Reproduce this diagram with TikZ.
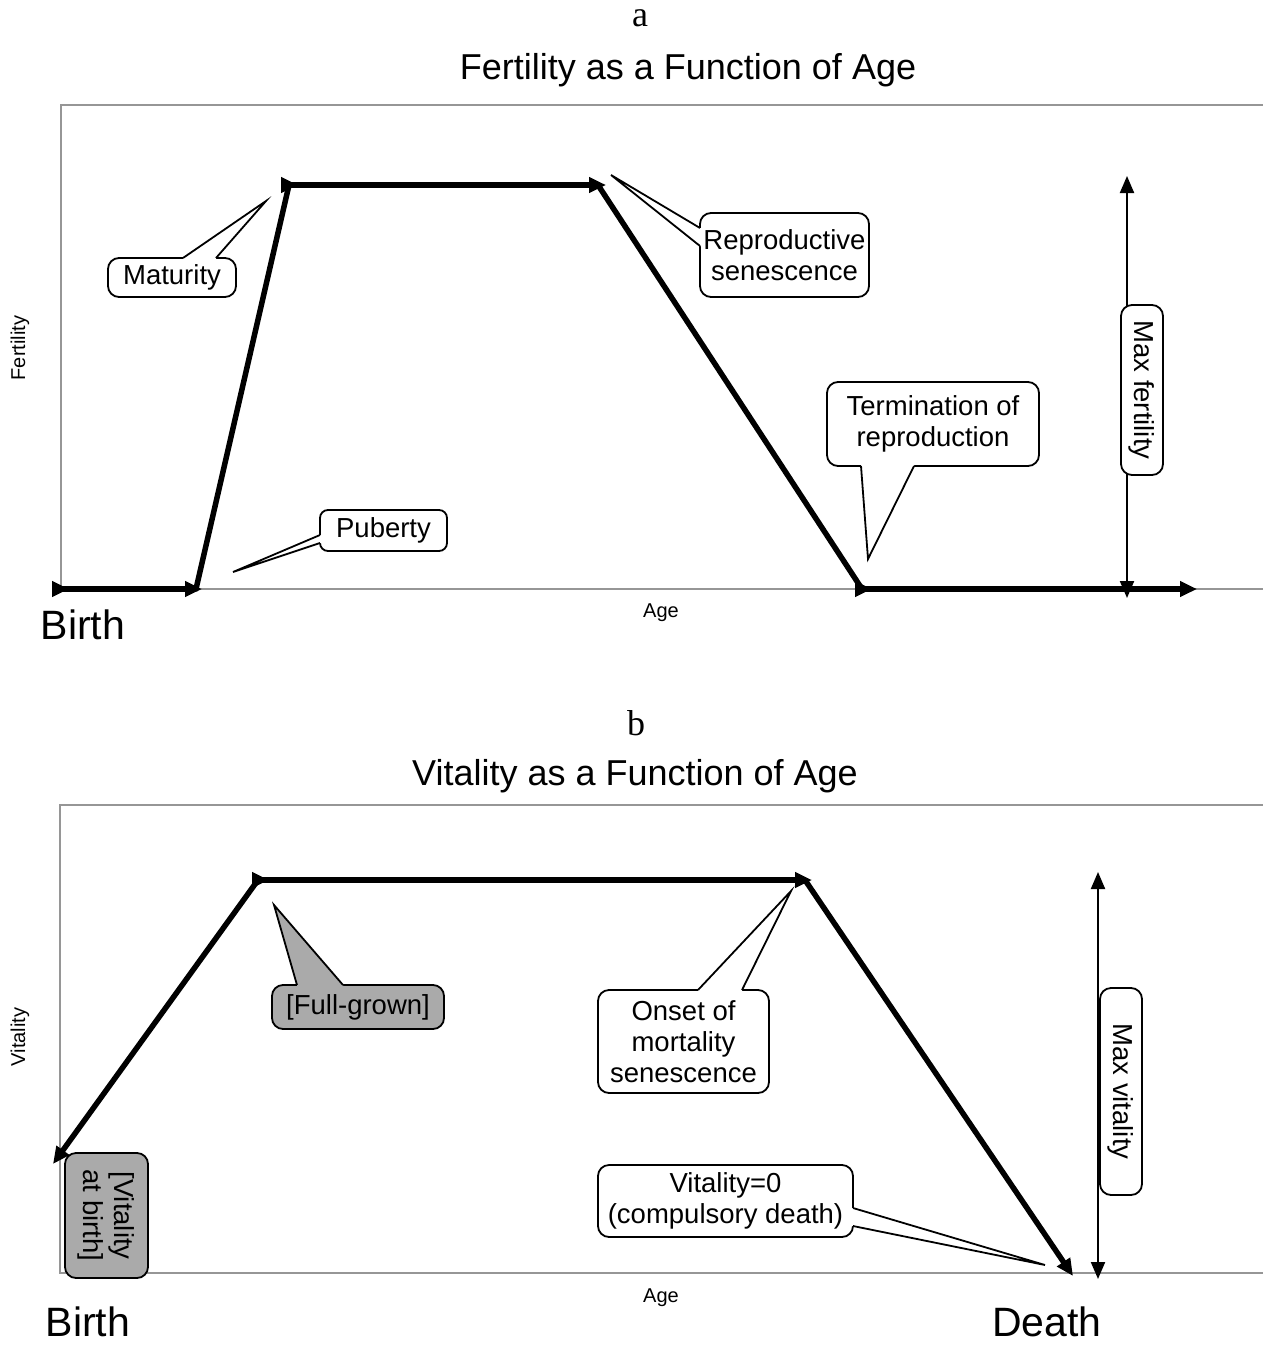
\documentclass[tikz,border=0pt]{standalone}
\usepackage{fontspec}
\setmainfont{Liberation Sans}
\newfontfamily\serifface{Liberation Serif}
\usetikzlibrary{arrows.meta,calc}
\definecolor{axisgray}{RGB}{150,150,150}
\definecolor{boxgray}{RGB}{170,170,170}
\begin{document}
\begin{tikzpicture}[x=1pt,y=-1pt,
  lbl/.style={font=\fontsize{27.5}{31}\selectfont, align=center, inner sep=0pt},
  callout/.style={lbl, draw=black, line width=1.8pt, rounded corners=11pt, fill=white},
  ptr/.style={line width=1.8pt, line join=miter},
  axisline/.style={draw=axisgray, line width=1.3pt},
  seg/.style={line width=5.5pt, arrows={Triangle[reversed,length=17pt,width=15pt]-Triangle[length=17pt,width=15pt]}},
  plainseg/.style={line width=5.5pt, line cap=round},
  headseg/.style={line width=5.5pt, arrows={-Triangle[length=17pt,width=15pt]}},
  maxline/.style={line width=2pt, arrows={Triangle[length=17pt,width=14pt]-Triangle[length=17pt,width=14pt]}},
  title/.style={font=\fontsize{36}{40}\selectfont, inner sep=0pt, anchor=base},
  small/.style={font=\fontsize{20}{22}\selectfont, inner sep=0pt},
  big/.style={font=\fontsize{41}{45}\selectfont, inner sep=0pt},
  letter/.style={font=\serifface\fontsize{36}{40}\selectfont, inner sep=0pt, anchor=base}
]
\useasboundingbox (0,0) rectangle (1263,1346);

% ================= panel a =================
\node[letter] (la) at (640,27) {a};
\node[title] (ta) at (688,80) {Fertility as a Function of Age};
\coordinate (aTL) at (61,105);
\coordinate (aTR) at (1263,105);
\coordinate (aBL) at (61,589);
\coordinate (aBR) at (1263,589);
\draw[axisline] (aTR) -- (aTL) -- (aBL) -- (aBR);
\node[small, rotate=90] (yla) at (20,348) {Fertility};
\node[small, anchor=base] (xla) at (661,617) {Age};
\node[big] (birtha) at (83,625) {Birth};

\coordinate (f0) at (52,589);
\coordinate (f1) at (202,589);
\coordinate (f1b) at (196,589);
\coordinate (f2) at (289,185);
\coordinate (f2b) at (281,185);
\coordinate (f3) at (606,185);
\coordinate (f3b) at (598,185);
\coordinate (f4) at (862,589);
\coordinate (f4b) at (855,589);
\coordinate (f5) at (1197,589);
\draw[plainseg] (f1b) -- (f2);
\draw[plainseg] (f3b) -- (f4);
\draw[seg] (f0) -- (f1);
\draw[seg] (f2b) -- (f3);
\draw[seg] (f4b) -- (f5);

% max fertility
\coordinate (mfT) at (1127,176);
\coordinate (mfB) at (1127,598);
\draw[maxline] (mfB) -- (mfT);
\node[callout, rotate=-90, minimum width=170pt, minimum height=42pt] (maxf) at (1142,390) {Max fertility};

% Maturity
\node[callout, minimum width=128pt, minimum height=39pt] (mat) at (172,277.5) {Maturity};
\coordinate (matT) at (266,201);
\coordinate (matA) at (183,258);
\coordinate (matB) at (216,258);
\fill[white] (matA) -- (matT) -- (matB) -- ($(matB)+(0,3)$) -- ($(matA)+(0,3)$) -- cycle;
\draw[ptr] (matA) -- (matT) -- (matB);

% Reproductive senescence
\node[callout, minimum width=169pt, minimum height=84pt] (rep) at (784.5,255) {Reproductive\\senescence};
\coordinate (repT) at (611,175);
\coordinate (repA) at (700,228);
\coordinate (repB) at (700,246);
\fill[white] (repA) -- (repT) -- (repB) -- ($(repB)+(3,0)$) -- ($(repA)+(3,0)$) -- cycle;
\draw[ptr] (repA) -- (repT) -- (repB);

% Termination of reproduction
\node[callout, minimum width=212pt, minimum height=84pt] (term) at (933,424) {Termination of\\reproduction};
\coordinate (termT) at (868,559);
\coordinate (termA) at (861,466);
\coordinate (termB) at (914,466);
\fill[white] (termA) -- (termT) -- (termB) -- ($(termB)+(0,-3)$) -- ($(termA)+(0,-3)$) -- cycle;
\draw[ptr] (termA) -- (termT) -- (termB);

% Puberty
\node[callout, rounded corners=8pt, minimum width=127pt, minimum height=41pt] (pub) at (383.5,530.5) {Puberty};
\coordinate (pubT) at (233,572);
\coordinate (pubA) at (320,535);
\coordinate (pubB) at (320,543);
\fill[white] (pubA) -- (pubT) -- (pubB) -- ($(pubB)+(3,0)$) -- ($(pubA)+(3,0)$) -- cycle;
\draw[ptr] (pubA) -- (pubT) -- (pubB);

% ================= panel b =================
\node[letter] (lb) at (636,735) {b};
\node[title] (tb) at (635,785) {Vitality as a Function of Age};
\coordinate (bTL) at (60,805);
\coordinate (bTR) at (1263,805);
\coordinate (bBL) at (60,1273);
\coordinate (bBR) at (1263,1273);
\draw[axisline] (bTR) -- (bTL) -- (bBL) -- (bBR);
\node[small, rotate=90] (ylb) at (20,1037) {Vitality};
\node[small, anchor=base] (xlb) at (661,1302) {Age};
\node[big] (birthb) at (88,1322) {Birth};
\node[big] (death) at (1047,1322) {Death};

\coordinate (v0) at (53,1164);
\coordinate (v1) at (258,880);
\coordinate (v1b) at (252,880);
\coordinate (v2) at (812,880);
\coordinate (v2b) at (805,880);
\coordinate (v3) at (1073,1276);
\draw[headseg] (v1) -- (v0);
\draw[headseg] (v2b) -- (v3);
\draw[seg] (v1b) -- (v2);

% max vitality
\coordinate (mvT) at (1098,872);
\coordinate (mvB) at (1098,1279);
\draw[maxline] (mvB) -- (mvT);
\node[callout, rotate=-90, minimum width=207pt, minimum height=42pt] (maxv) at (1121,1091.5) {Max vitality};

% Full-grown
\node[callout, fill=boxgray, minimum width=172pt, minimum height=44pt] (full) at (358,1007) {[Full-grown]};
\coordinate (fullT) at (274,905);
\coordinate (fullA) at (297,985);
\coordinate (fullB) at (343,985);
\fill[boxgray] (fullA) -- (fullT) -- (fullB) -- ($(fullB)+(0,3)$) -- ($(fullA)+(0,3)$) -- cycle;
\draw[ptr] (fullA) -- (fullT) -- (fullB);

% Onset of mortality senescence
\node[callout, minimum width=171pt, minimum height=103pt] (onset) at (683.5,1041.5) {Onset of\\mortality\\senescence};
\coordinate (onsT) at (791,891);
\coordinate (onsA) at (698,990);
\coordinate (onsB) at (742,990);
\fill[white] (onsA) -- (onsT) -- (onsB) -- ($(onsB)+(0,3)$) -- ($(onsA)+(0,3)$) -- cycle;
\draw[ptr] (onsA) -- (onsT) -- (onsB);

% Vitality=0
\node[callout, minimum width=255pt, minimum height=72pt] (vzero) at (725.5,1201) {Vitality=0\\(compulsory death)};
\coordinate (vzT) at (1045,1265);
\coordinate (vzA) at (853,1208);
\coordinate (vzB) at (853,1226);
\fill[white] (vzA) -- (vzT) -- (vzB) -- ($(vzB)+(-3,0)$) -- ($(vzA)+(-3,0)$) -- cycle;
\draw[ptr] (vzA) -- (vzT) -- (vzB);

% Vitality at birth
\node[callout, fill=boxgray, rotate=-90, minimum width=125pt, minimum height=83pt] (vbirth) at (106.5,1215.5) {[Vitality\\at birth]};
\end{tikzpicture}
\end{document}
